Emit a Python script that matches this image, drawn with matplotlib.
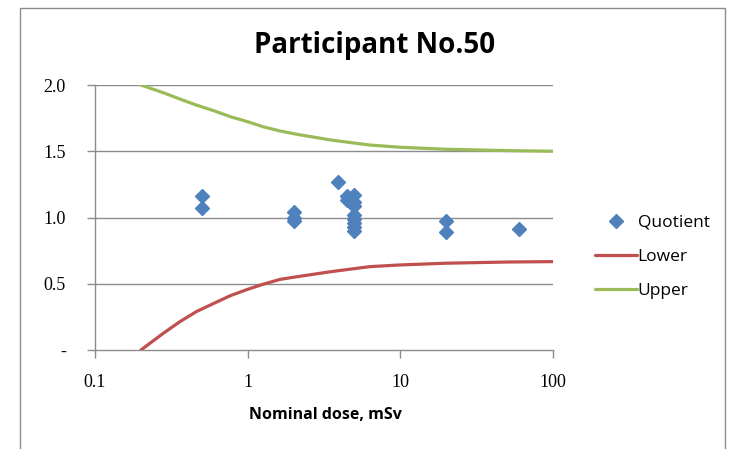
import matplotlib
matplotlib.use("Agg")
import matplotlib.pyplot as plt
from matplotlib.patches import Rectangle
from matplotlib.ticker import FixedLocator, NullLocator

# Data
quot_x = [0.5, 0.5, 2, 2, 2, 3.9, 4.5, 4.5, 5, 5, 5, 5, 5, 5, 5, 5, 20, 20, 60]
quot_y = [1.16, 1.07, 1.04, 1.00, 0.97, 1.265, 1.16, 1.13, 1.17, 1.12, 1.09,
          1.02, 0.99, 0.96, 0.93, 0.90, 0.97, 0.89, 0.91]

line_x = [0.2, 0.28, 0.36, 0.46, 0.6, 0.77, 1, 1.26, 1.63, 2.1, 3.5, 6.3, 10, 20, 50, 100]
lower_y = [0.0, 0.126, 0.214, 0.289, 0.352, 0.41, 0.458, 0.496, 0.533, 0.553,
           0.591, 0.629, 0.642, 0.655, 0.664, 0.667]
upper_y = [2.0, 1.942, 1.894, 1.849, 1.806, 1.761, 1.723, 1.685, 1.653, 1.628,
           1.585, 1.547, 1.53, 1.515, 1.505, 1.50]

xticks = [0.1, 1, 10, 100]
xtick_labels = ["0.1", "1", "10", "100"]
yticks = [0, 0.5, 1.0, 1.5, 2.0]
ytick_labels = ["-", "0.5", "1.0", "1.5", "2.0"]

fig = plt.figure(figsize=(7.3, 4.49), dpi=100)
fig.patch.set_facecolor("white")
fig.patches.append(Rectangle((20 / 730, -0.05), (725 - 20) / 730, 1 - 8 / 449 + 0.05,
                             transform=fig.transFigure, fill=False,
                             edgecolor="#8c8c8c", linewidth=1.0))

ax = fig.add_axes([95 / 730, 1 - 350 / 449, (553 - 95) / 730, (350 - 85) / 449])
ax.set_xscale("log")
ax.set_xlim(0.1, 100)
ax.set_ylim(0, 2.0)

ax.yaxis.set_major_locator(FixedLocator(yticks))
ax.set_yticklabels(ytick_labels, family="Liberation Serif", fontsize=13)
ax.xaxis.set_major_locator(FixedLocator(xticks))
ax.xaxis.set_minor_locator(NullLocator())
ax.set_xticklabels(xtick_labels, family="Liberation Serif", fontsize=13)

for v in yticks[1:]:
    ax.axhline(v, color="#8c8c8c", linewidth=1.0, zorder=0)

for s in ["top", "right"]:
    ax.spines[s].set_visible(False)
for s in ["left", "bottom"]:
    ax.spines[s].set_color("#8c8c8c")
    ax.spines[s].set_linewidth(1.0)
ax.tick_params(axis="both", colors="#8c8c8c", length=6, width=1.0, labelcolor="black")
ax.tick_params(axis="x", pad=11)
ax.tick_params(axis="y", pad=15)

ax.plot(quot_x, quot_y, linestyle="none", marker="D", markersize=7.5,
        color="#4F81BD", label="Quotient", zorder=3)
ax.plot(line_x, lower_y, color="#C0504D", linewidth=2.3, label="Lower",
        solid_capstyle="round", solid_joinstyle="round", zorder=2)
ax.plot(line_x, upper_y, color="#9BBB59", linewidth=2.3, label="Upper",
        solid_capstyle="round", solid_joinstyle="round", zorder=2)

fig.text(375 / 730, 1 - 46 / 449, "Participant No.50", ha="center", va="center",
         fontsize=20, fontweight="bold", family="Open Sans")
fig.text(325 / 730, 1 - 415 / 449, "Nominal dose, mSv", ha="center", va="center",
         fontsize=11.5, fontweight="bold", family="Open Sans")

leg = ax.legend(loc="center left", bbox_to_anchor=(595 / 730, 1 - 257 / 449),
                bbox_transform=fig.transFigure, frameon=False,
                prop={"family": "Open Sans", "size": 12.5},
                handlelength=2.4, handletextpad=0.05, labelspacing=1.05,
                borderaxespad=0, borderpad=0)

fig.savefig("out.png", dpi=100, facecolor="white")
